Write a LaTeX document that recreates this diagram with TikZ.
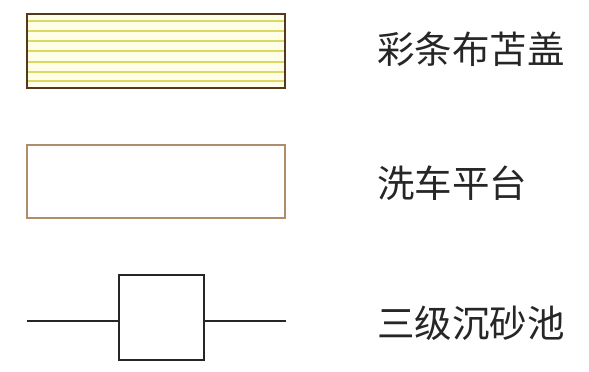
\documentclass[tikz,border=0pt]{standalone}
\usepackage{fontspec}
\newfontfamily\cjk{Noto Sans CJK SC}
\begin{document}
\begin{tikzpicture}[x=1pt,y=-1pt,
  lbl/.style={anchor=west,inner sep=0pt,font=\cjk\fontsize{37.5}{38}\selectfont,text=black!85},
  tarp/.style={draw=black!55!brown,line width=1.3pt,fill=yellow!10},
  stripe/.style={draw=yellow!45!olive!55,line width=2pt},
  wash/.style={draw=brown!60!gray!90,line width=1.4pt},
  pipe/.style={draw=black!85,line width=1.8pt}]
\useasboundingbox (0,0) rectangle (589,372);
% tarp
\node[tarp,minimum width=258pt,minimum height=74pt,inner sep=0pt] (tarp) at (156,51) {};
\foreach \yy in {21,31,41,51,62,72,81}{
  \draw[stripe] (28,\yy) -- (284,\yy);
}
\draw[tarp,fill=none] (tarp.north west) rectangle (tarp.south east);
\node[lbl] (t1) at (377,49) {彩条布苫盖};
% wash platform
\node[wash,minimum width=258pt,minimum height=73pt,inner sep=0pt] (wash) at (156,181.5) {};
\node[lbl] (t2) at (377,183) {洗车平台};
% sedimentation
\node[pipe,minimum width=85pt,minimum height=85pt,inner sep=0pt] (pool) at (161.5,317.5) {};
\coordinate (pl) at (27,321);
\coordinate (pr) at (286,321);
\draw[pipe] (pl) -- (pl -| pool.west);
\draw[pipe] (pool.east |- pr) -- (pr);
\node[lbl] (t3) at (377,323) {三级沉砂池};
\end{tikzpicture}
\end{document}
